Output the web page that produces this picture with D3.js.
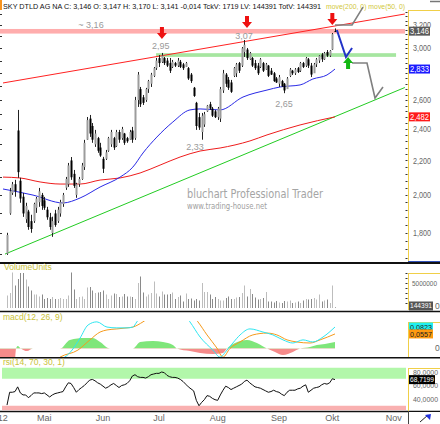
<!DOCTYPE html>
<html>
<head>
<meta charset="utf-8">
<script src="https://cdn.jsdelivr.net/npm/d3@7"></script>
<style>
body { margin: 0; background: #fff; }
svg { display: block; font-family: "Liberation Sans", Arial, sans-serif; }
</style>
</head>
<body>
<svg id="chart" width="440" height="424"></svg>
<script>
// SKY DTLD AG NA, daily bars 11.04.2012 - 02.10.2012 (bar index 0..123)
var title = "SKY DTLD AG NA C: 3,146 O: 3,147 H: 3,170 L: 3,141 -0,014 TckV: 1719 LV: 144391 TotV: 144391";
var studies = "move(200, 0) move(50, 0)";

var monthLabels = ["Apr '12", "Mai", "Jun", "Jul", "Aug", "Sep", "Okt", "Nov"];
var monthIdx = [-5, 14, 36, 57, 79, 102, 122, 145];

var open = [1.700,1.90,2.01,2.06,2.39,2.08,1.99,1.87,1.91,1.86,
  1.86,1.93,1.96,2.00,1.97,1.92,1.88,1.80,1.90,1.86,
  1.90,1.95,2.04,2.06,2.20,2.12,2.00,2.06,2.09,2.16,
  2.33,2.47,2.42,2.30,2.34,2.28,2.21,2.21,2.26,2.30,
  2.34,2.29,2.38,2.34,2.37,2.34,2.33,2.39,2.34,2.60,
  2.68,2.62,2.60,2.68,2.72,2.78,2.84,2.92,2.89,2.92,
  2.90,2.88,2.85,2.88,2.86,2.89,2.87,2.85,2.84,2.79,
  2.69,2.58,2.48,2.38,2.43,2.52,2.57,2.54,2.52,2.48,
  2.47,2.67,2.79,2.75,2.73,2.78,2.80,2.88,2.86,2.97,
  2.99,2.91,2.92,2.88,2.86,2.85,2.88,2.83,2.86,2.82,
  2.80,2.76,2.72,2.74,2.72,2.68,2.78,2.82,2.80,2.84,
  2.82,2.88,2.86,2.91,2.86,2.80,2.87,2.90,2.95,2.91,
  2.97,2.94,2.99,3.147];
var high = [1.801,2.039,2.073,2.085,2.530,2.097,2.011,1.957,1.919,1.893,
  1.957,1.989,2.039,2.011,1.989,1.935,1.903,1.883,1.919,1.935,
  1.973,2.011,2.102,2.185,2.221,2.143,2.068,2.102,2.185,2.329,
  2.481,2.495,2.440,2.394,2.348,2.310,2.222,2.265,2.348,2.394,
  2.348,2.394,2.394,2.414,2.374,2.348,2.394,2.414,2.623,2.810,
  2.696,2.637,2.689,2.749,2.803,2.849,2.921,2.945,2.962,2.929,
  2.921,2.921,2.905,2.889,2.921,2.905,2.881,2.889,2.849,2.802,
  2.696,2.587,2.509,2.509,2.516,2.565,2.587,2.551,2.530,2.551,
  2.696,2.826,2.802,2.771,2.749,2.849,2.881,2.889,3.011,3.070,
  3.003,2.970,2.929,2.905,2.881,2.921,2.889,2.881,2.865,2.841,
  2.810,2.771,2.787,2.749,2.726,2.771,2.841,2.826,2.841,2.849,
  2.889,2.889,2.929,2.921,2.881,2.881,2.921,2.945,2.962,2.970,
  2.986,2.986,3.130,3.170];
var low = [1.694,1.893,2.000,1.990,2.097,1.957,1.882,1.851,1.816,1.801,
  1.851,1.903,1.935,1.919,1.919,1.867,1.816,1.781,1.831,1.851,
  1.883,1.935,2.028,2.045,2.085,2.039,1.984,2.045,2.085,2.143,
  2.329,2.348,2.310,2.284,2.247,2.222,2.125,2.203,2.253,2.284,
  2.265,2.284,2.310,2.329,2.297,2.310,2.329,2.310,2.329,2.551,
  2.551,2.565,2.587,2.652,2.696,2.771,2.826,2.849,2.881,2.865,
  2.849,2.802,2.841,2.849,2.849,2.841,2.826,2.849,2.749,2.726,
  2.623,2.394,2.394,2.330,2.414,2.516,2.530,2.481,2.474,2.461,
  2.447,2.652,2.696,2.674,2.652,2.771,2.771,2.802,2.849,2.929,
  2.905,2.905,2.849,2.826,2.787,2.841,2.810,2.826,2.771,2.787,
  2.734,2.726,2.696,2.696,2.650,2.689,2.771,2.787,2.787,2.802,
  2.810,2.841,2.849,2.841,2.771,2.802,2.849,2.881,2.889,2.905,
  2.929,2.929,2.986,3.141];
var close = [1.790,2.02,2.06,2.02,2.13,1.98,1.90,1.94,1.83,1.82,
  1.95,1.98,2.02,1.94,1.93,1.88,1.83,1.86,1.84,1.92,
  1.96,2.00,2.09,2.17,2.10,2.05,2.06,2.09,2.17,2.31,
  2.46,2.37,2.33,2.37,2.26,2.23,2.15,2.25,2.34,2.38,
  2.28,2.38,2.33,2.40,2.31,2.32,2.38,2.33,2.60,2.79,
  2.57,2.58,2.68,2.74,2.79,2.84,2.90,2.88,2.94,2.88,
  2.86,2.82,2.89,2.86,2.90,2.85,2.84,2.88,2.76,2.74,
  2.63,2.42,2.41,2.49,2.50,2.56,2.54,2.49,2.48,2.54,
  2.68,2.80,2.72,2.69,2.66,2.84,2.87,2.82,3.00,3.03,
  2.92,2.96,2.86,2.84,2.80,2.91,2.82,2.87,2.78,2.79,
  2.74,2.73,2.77,2.70,2.67,2.76,2.83,2.80,2.83,2.81,
  2.88,2.85,2.92,2.86,2.79,2.87,2.91,2.94,2.91,2.96,
  2.94,2.98,3.12,3.146];
var volume = [2.5e6,3.0e6,7.1e6,4.5e6,5.8e6,7.0e6,7.0e6,5.7e6,4.3e6,3.5e6,
  2.7e6,2.7e6,2.3e6,2.7e6,1.8e6,2.0e6,1.8e6,2.2e6,1.8e6,1.8e6,
  2.0e6,1.8e6,1.8e6,2.5e6,7.1e6,3.7e6,1.8e6,2.2e6,2.3e6,
  1.8e6,4.1e6,4.2e6,3.5e6,3.0e6,3.1e6,3.2e6,3.5e6,2.7e6,
  1.8e6,2.5e6,2.9e6,2.8e6,2.2e6,2.3e6,2.8e6,2.3e6,2.3e6,
  2.2e6,1.8e6,5.0e6,6.3e6,3.1e6,2.3e6,2.7e6,
  3.0e6,5.3e6,2.9e6,2.3e6,3.3e6,2.7e6,2.7e6,2.8e6,3.1e6,1.8e6,2.2e6,2.5e6,
  1.3e6,2.9e6,1.8e6,1.9e6,1.5e6,1.8e6,1.5e6,5.0e6,3.2e6,
  3.2e6,2.7e6,1.8e6,2.2e6,1.8e6,1.5e6,1.5e6,
  2.0e6,2.3e6,1.8e6,1.8e6,2.1e6,2.2e6,3.0e6,4.5e6,2.3e6,3.8e6,2.8e6,2.1e6,
  1.7e6,1.8e6,2.0e6,3.2e6,1.3e6,1.3e6,1.1e6,1.4e6,1.1e6,1.0e6,1.4e6,
  1.3e6,1.5e6,1.0e6,1.1e6,1.3e6,1.0e6,1.5e6,1.8e6,1.7e6,1.8e6,2.0e6,1.7e6,2.7e6,1.3e6,1.5e6,1.7e6,1.0e6,4.5e6,
  144391];
var rsi = [31,50,50,51,58,49,46,46,42,45, 49,49,49,48,49,46,43,46,48,49,
  50,51,58,64,63,57,50,54,57,60, 64,68,69,67,64,62,59,56,58,61,
  63,60,57,60,61,63,67,74,76,73, 72,72,71,73,76,77,78,78,80,79,
  75,73,72,72,71,69,66,62,58,55, 52,38,30,35,39,45,44,41,39,38,
  46,53,59,57,54,56,58,60,62,66, 68,64,61,58,57,56,54,52,50,51,
  53,51,50,47,45,50,53,53,53,55, 56,59,61,50,53,56,57,58,61,63,
  62,64,70,68.7199];

// moving averages as [bar index, value]
var ma50 = [[-1.5,2.033],[9.75,1.999],[21,1.956],[27.4,1.983],[34.9,2.044],[42.4,2.101],[47.2,2.160],
  [51,2.246],[56.2,2.347],[62.2,2.447],[68.6,2.530],[72.4,2.537],[79.9,2.530],[88.5,2.622],[97.5,2.673],
  [102.4,2.696],[109.9,2.711],[114.7,2.756],[120,2.787],[123,2.833]];
var ma200 = [[-1.5,2.101],[4.9,2.096],[12.4,2.073],[19.9,2.061],[27.4,2.061],[34.9,2.084],[42.4,2.096],
  [49.9,2.125],[57.4,2.172],[64.9,2.221],[72.4,2.258],[79.9,2.277],[91.1,2.322],[97.5,2.361],
  [109.9,2.427],[123,2.482]];

var macdLine = [[-3,-0.09],[12,-0.065],[21.7,-0.033],[24.4,-0.006],[27.4,0.040],[30.4,0.090],[33.7,0.102],
  [37.5,0.082],[41.2,0.079],[45,0.079],[47.2,0.082],[48.7,0.102],[51.7,0.14],[57,0.19],[62,0.175],
  [68.6,0.102],[72.4,0.044],[77.2,-0.006],[79.9,-0.033],[82.5,-0.006],[84.7,0.021],[87.4,0.052],
  [91.1,0.075],[96,0.063],[99.7,0.052],[103.5,0.033],[107.2,0.021],[111,0.033],[114.7,0.025],
  [118.5,0.044],[123,0.0823]];
var signalLine = [[-3,-0.12],[12.4,-0.10],[19.9,-0.033],[26.6,-0.006],[31.1,0.033],[34.9,0.063],[37.5,0.071],
  [41.2,0.075],[45,0.079],[47.2,0.082],[51,0.102],[57.4,0.15],[63,0.16],[67,0.15],[71.6,0.102],
  [75,0.052],[78.7,0.002],[81,-0.033],[83.6,0],[87.4,0.025],[92.2,0.052],[97.5,0.059],[101.2,0.052],
  [105,0.033],[108.7,0.025],[113.6,0.021],[117.4,0.033],[123,0.0557]];
var macdHist = [[-3,-0.04],[3,-0.04],[3.4,0],[4,0.01],[5.2,0],[7.5,-0.01],[9.7,0],[19.9,0],[23.6,0.033],
  [29.2,0.04],[32.2,0.04],[34.9,0.025],[38.6,0],[47.2,0],[49.9,0.025],[54.7,0.029],[58.5,0.025],
  [62.2,0.013],[63.7,0],[68.6,-0.01],[72.4,-0.017],[77.2,-0.021],[81,-0.017],[82.5,0],[85.5,0.021],
  [90,0.033],[93.7,0.021],[97.5,0],[100.5,-0.013],[103.5,-0.025],[107.2,-0.013],[109.9,0],
  [113.6,0.006],[116.2,0.013],[119.2,0.017],[123,0.025]];

// drawn studies: [bar index, price]
var upperChannel = [[-1.5,2.726],[149.2,3.299]];
var lowerChannel = [[-0.75,1.698],[149.2,2.692]];
var resistBand = [3.125, 3.165];
var supportBand = [2.93, 2.96];
var supportFrom = 55.9, supportTo = 145.9;
var blueZig = [[123.7,3.156],[127.1,2.929],[129.4,3.003]];
var greyZigTop = [[123,3.200],[129.4,3.200],[133.5,3.363]];
var greyZigLow = [[129.4,2.881],[135,2.881],[138,2.615],[141,2.696]];
var downArrows = [[58.1,3.078],[90,3.173],[122,3.200]];
var upArrows = [[127.9,2.929]];
var priceNotes = [["~ 3,16",31.5,3.2],["2,95",57.7,3.019],["3,07",88.9,3.104],["2,33",70.5,2.284],["2,65",103.9,2.572]];

// 2,800 sits under the 2,833 value box in the original, so it is left out
var priceTicks = [1.8, 2.0, 2.2, 2.4, 2.6, 3.0, 3.2];
var rsiTicks = [40, 60, 80];

var svg = d3.select("#chart");
var axisX = 408;

var x = d3.scaleLinear().domain([-2.625, 150.375]).range([0, axisX]);
var yPrice = d3.scaleLog().domain([1.6612, 3.3356]).range([262, 10]);
var yVol = d3.scaleLinear().domain([0, 5e6]).range([308, 283]);
var yMacd = d3.scaleLinear().domain([0, 0.0823]).range([348.5, 327]);
var yRsi = d3.scaleLinear().domain([40, 80]).range([399, 372]);

var fmtPrice = function (v) { return d3.format(".3f")(v).replace(".", ","); };
var fmtRsi = function (v) { return d3.format(".4f")(v).replace(".", ","); };

var defs = svg.append("defs");
function clip(id, y0, y1) {
    defs.append("clipPath").attr("id", id).append("rect")
        .attr("x", 0).attr("y", y0).attr("width", axisX).attr("height", y1 - y0);
    return "url(#" + id + ")";
}
var clipMain = clip("cMain", 10, 262);
var clipVol = clip("cVol", 266, 309);
var clipMacd = clip("cMacd", 321, 357);
var clipMacdUp = clip("cMacdUp", 321, yMacd(0));
var clipMacdDn = clip("cMacdDn", yMacd(0), 357);
var clipRsi = clip("cRsi", 367.5, 410.5);

// small narrow labels (the original font is condensed)
function label(sel, px, py, size, color, txt, len) {
    var t = sel.append("text").attr("x", px).attr("y", py).attr("dy", "0.35em")
        .attr("font-size", size).attr("fill", color).text(txt);
    if (len) t.attr("textLength", len).attr("lengthAdjust", "spacingAndGlyphs");
    return t;
}

// header
svg.append("rect").attr("x", 0).attr("y", 0).attr("width", 2).attr("height", 10).attr("fill", "#f7931e");
svg.append("text").attr("x", 3).attr("y", 9).attr("font-size", 7.5).attr("fill", "#111")
    .attr("textLength", 318).attr("lengthAdjust", "spacingAndGlyphs").text(title);
svg.append("text").attr("x", 326).attr("y", 9).attr("font-size", 7.5).attr("fill", "#d2c83c")
    .attr("textLength", 79).attr("lengthAdjust", "spacingAndGlyphs").text(studies);
svg.append("line").attr("x1", 430).attr("x2", 440).attr("y1", 1.5).attr("y2", 1.5)
    .attr("stroke", "#777").attr("stroke-width", 1.5);

// ---------- main price panel ----------
var gMain = svg.append("g").attr("clip-path", clipMain);

gMain.append("rect").attr("x", 0).attr("width", 405)
    .attr("y", yPrice(resistBand[1])).attr("height", yPrice(resistBand[0]) - yPrice(resistBand[1]))
    .attr("fill", "#ffadad");
gMain.append("rect").attr("x", x(supportFrom)).attr("width", x(supportTo) - x(supportFrom))
    .attr("y", yPrice(supportBand[1])).attr("height", yPrice(supportBand[0]) - yPrice(supportBand[1]))
    .attr("fill", "#a6e6a0");

svg.append("text").attr("x", 187).attr("y", 198).attr("font-size", 11.5).attr("fill", "#a5a5a5")
    .attr("font-family", "DejaVu Sans, sans-serif")
    .attr("textLength", 136).attr("lengthAdjust", "spacingAndGlyphs").text("bluchart Professional Trader");
svg.append("text").attr("x", 187).attr("y", 209).attr("font-size", 8).attr("fill", "#a0a0a0")
    .attr("font-family", "DejaVu Sans, sans-serif")
    .attr("textLength", 80).attr("lengthAdjust", "spacingAndGlyphs").text("www.trading-house.net");

var pline = d3.line().x(function (d) { return x(d[0]); }).y(function (d) { return yPrice(d[1]); });
var pcurve = d3.line().curve(d3.curveMonotoneX)
    .x(function (d) { return x(d[0]); }).y(function (d) { return yPrice(d[1]); });

gMain.append("path").attr("d", pline(upperChannel)).attr("fill", "none").attr("stroke", "#f22").attr("stroke-width", 1);
gMain.append("path").attr("d", pline(lowerChannel)).attr("fill", "none").attr("stroke", "#2c2").attr("stroke-width", 1);
gMain.append("path").attr("d", pcurve(ma200)).attr("fill", "none").attr("stroke", "#ee1c1c").attr("stroke-width", 1);
gMain.append("path").attr("d", pcurve(ma50)).attr("fill", "none").attr("stroke", "#2a2ae6").attr("stroke-width", 1);

var bars = d3.range(close.length);
var candle = gMain.selectAll("g.candle").data(bars).enter().append("g").attr("class", "candle");
candle.append("line")
    .attr("x1", function (i) { return Math.round(x(i)) + 0.5; })
    .attr("x2", function (i) { return Math.round(x(i)) + 0.5; })
    .attr("y1", function (i) { return yPrice(high[i]); })
    .attr("y2", function (i) { return yPrice(low[i]); })
    .attr("stroke", "#222").attr("stroke-width", 1);
candle.append("rect")
    .attr("x", function (i) { return Math.round(x(i)) - 0.5; })
    .attr("width", 2)
    .attr("y", function (i) { return yPrice(Math.max(open[i], close[i])); })
    .attr("height", function (i) { return Math.max(1, yPrice(Math.min(open[i], close[i])) - yPrice(Math.max(open[i], close[i]))); })
    .attr("fill", function (i) { return close[i] >= open[i] ? "#9c9c9c" : "#000"; });

// drawn studies
svg.append("path").attr("d", pline(greyZigTop)).attr("fill", "none").attr("stroke", "#808080").attr("stroke-width", 1.6);
svg.append("path").attr("d", pline(greyZigLow)).attr("fill", "none").attr("stroke", "#808080").attr("stroke-width", 1.6);
svg.append("path").attr("d", pline(blueZig)).attr("fill", "none").attr("stroke", "#2233c8").attr("stroke-width", 2);

function arrow(tx, ty, dir, color) {
    // dir = 1 points down, -1 points up
    var s = dir;
    var pts = [[tx, ty], [tx - 5, ty - 6 * s], [tx - 2, ty - 6 * s], [tx - 2, ty - 12 * s],
               [tx + 2, ty - 12 * s], [tx + 2, ty - 6 * s], [tx + 5, ty - 6 * s]];
    svg.append("polygon").attr("points", pts.map(function (p) { return p.join(","); }).join(" ")).attr("fill", color);
}
downArrows.forEach(function (d) { arrow(x(d[0]), yPrice(d[1]), 1, "#ee1111"); });
upArrows.forEach(function (d) { arrow(x(d[0]), yPrice(d[1]), -1, "#14b814"); });

svg.selectAll("text.note").data(priceNotes).enter().append("text").attr("class", "note")
    .attr("x", function (d) { return x(d[1]); }).attr("y", function (d) { return yPrice(d[2]); })
    .attr("dy", "0.35em").attr("text-anchor", "middle").attr("font-size", 9).attr("fill", "#9a9a9a")
    .text(function (d) { return d[0]; });

// left edge ticks
svg.selectAll("line.lt").data(d3.range(1.7, 3.35, 0.1)).enter().append("line").attr("class", "lt")
    .attr("x1", 0).attr("x2", 2).attr("y1", function (v) { return Math.round(yPrice(v)) + 0.5; })
    .attr("y2", function (v) { return Math.round(yPrice(v)) + 0.5; }).attr("stroke", "#333");

// right price axis
function axisFrame(y0, y1) {
    svg.append("line").attr("x1", axisX + 0.5).attr("x2", axisX + 0.5).attr("y1", y0).attr("y2", y1)
        .attr("stroke", "#f0cf48").attr("stroke-width", 1);
    svg.append("line").attr("x1", axisX).attr("x2", 440).attr("y1", y0 + 0.5).attr("y2", y0 + 0.5)
        .attr("stroke", "#f0cf48").attr("stroke-width", 1);
}
axisFrame(10, 262);
svg.append("line").attr("x1", axisX).attr("x2", 440).attr("y1", 261.5).attr("y2", 261.5).attr("stroke", "#3050b8");

svg.selectAll("line.mt").data(d3.range(1.68, 3.34, 0.04)).enter().append("line").attr("class", "mt")
    .attr("x1", 405.5).attr("x2", 407.5).attr("y1", function (v) { return Math.round(yPrice(v)) + 0.5; })
    .attr("y2", function (v) { return Math.round(yPrice(v)) + 0.5; }).attr("stroke", "#333");
priceTicks.forEach(function (v) { label(svg, 413, yPrice(v), 9, "#666", fmtPrice(v), 18); });

function valueBox(yPos, txt, bg, fg, w, size) {
    svg.append("rect").attr("x", 409).attr("y", yPos - 4.5).attr("width", w).attr("height", 9).attr("fill", bg);
    label(svg, 410, yPos, size || 8.5, fg, txt, w - 2);
}
valueBox(yPrice(close[close.length - 1]), fmtPrice(close[close.length - 1]), "#5a5a5a", "#fff", 21);
valueBox(yPrice(ma50[ma50.length - 1][1]), fmtPrice(ma50[ma50.length - 1][1]), "#1a1aff", "#fff", 21);
valueBox(yPrice(ma200[ma200.length - 1][1]), fmtPrice(ma200[ma200.length - 1][1]), "#ff1a1a", "#fff", 21);

// separators
[[263, 2], [311.5, 1.5], [357.8, 1.5], [411.5, 1.5]].forEach(function (s) {
    svg.append("line").attr("x1", 0).attr("x2", 440).attr("y1", s[0]).attr("y2", s[0])
        .attr("stroke", "#111").attr("stroke-width", s[1]);
});

// ---------- volume ----------
svg.append("text").attr("x", 4).attr("y", 270).attr("font-size", 8.5).attr("fill", "#c9c238").text("VolumeUnits");
var gVol = svg.append("g").attr("clip-path", clipVol);
gVol.selectAll("rect").data(bars).enter().append("rect")
    .attr("x", function (i) { return Math.round(x(i)); }).attr("width", 1)
    .attr("y", function (i) { return yVol(volume[i]); })
    .attr("height", function (i) { return yVol(0) - yVol(volume[i]); })
    .attr("fill", function (i) { return close[i] >= open[i] ? "#bdbdbd" : "#8a8a8a"; });
axisFrame(273, 310);
svg.selectAll("line.vt").data([1e6, 2e6, 3e6, 4e6, 5e6, 6e6, 7e6]).enter().append("line").attr("class", "vt")
    .attr("x1", 405.5).attr("x2", 407.5).attr("y1", function (v) { return Math.round(yVol(v)) + 0.5; })
    .attr("y2", function (v) { return Math.round(yVol(v)) + 0.5; }).attr("stroke", "#333");
label(svg, 412, yVol(5e6), 7.5, "#666", "5000000", 25);
label(svg, 435, yVol(0) - 2, 8.5, "#666", "0");
valueBox(yVol(0) - 2, String(volume[volume.length - 1]), "#555", "#fff", 24, 7);

// ---------- macd ----------
svg.append("text").attr("x", 3).attr("y", 320).attr("font-size", 8.5).attr("fill", "#c9c238").text("macd(12, 26, 9)");
var gMacd = svg.append("g");
var histArea = d3.area().curve(d3.curveMonotoneX)
    .x(function (d) { return x(d[0]); }).y0(yMacd(0)).y1(function (d) { return yMacd(d[1]); });
gMacd.append("path").attr("d", histArea(macdHist)).attr("fill", "#7fe67a").attr("clip-path", clipMacdUp);
gMacd.append("path").attr("d", histArea(macdHist)).attr("fill", "#f58b8b").attr("clip-path", clipMacdDn);
var mline = d3.line().curve(d3.curveMonotoneX)
    .x(function (d) { return x(d[0]); }).y(function (d) { return yMacd(d[1]); });
var gMacdL = svg.append("g").attr("clip-path", clipMacd);
gMacdL.append("path").attr("d", mline(signalLine)).attr("fill", "none").attr("stroke", "#f59a1c").attr("stroke-width", 1);
gMacdL.append("path").attr("d", mline(macdLine)).attr("fill", "none").attr("stroke", "#2ee6f0").attr("stroke-width", 1);
axisFrame(322, 357);
label(svg, 435, yMacd(0), 8.5, "#666", "0");
valueBox(yMacd(macdLine[macdLine.length - 1][1]), "0,0823", "#1ef0f0", "#222", 24, 7.5);
valueBox(yMacd(signalLine[signalLine.length - 1][1]), "0,0557", "#ff9a10", "#222", 24, 7.5);

// ---------- rsi ----------
svg.append("text").attr("x", 3).attr("y", 365).attr("font-size", 8.5).attr("fill", "#c9c238").text("rsi(14, 70, 30, 1)");
var gRsi = svg.append("g").attr("clip-path", clipRsi);
gRsi.append("rect").attr("x", 2).attr("width", 404).attr("y", 367.5).attr("height", yRsi(70) - 367.5).attr("fill", "#b2f7aa");
gRsi.append("rect").attr("x", 2).attr("width", 404).attr("y", yRsi(30)).attr("height", 410.5 - yRsi(30)).attr("fill", "#f9b0b0");
gRsi.append("path").attr("d", d3.line().x(function (d, i) { return x(i); }).y(function (d) { return yRsi(d); })(rsi))
    .attr("fill", "none").attr("stroke", "#111").attr("stroke-width", 1);
axisFrame(368, 411);
rsiTicks.forEach(function (v) { label(svg, 413, yRsi(v), 7.2, "#666", fmtRsi(v), 25); });
valueBox(yRsi(rsi[rsi.length - 1]), fmtRsi(rsi[rsi.length - 1]), "#000", "#fff", 26, 7.2);

// ---------- date axis ----------
svg.selectAll("text.mo").data(monthLabels).enter().append("text").attr("class", "mo")
    .attr("x", function (d, k) { return x(monthIdx[k]); }).attr("y", 418).attr("dy", "0.35em")
    .attr("text-anchor", "middle").attr("font-size", 9).attr("fill", "#666").text(function (d) { return d; });
svg.append("rect").attr("x", axisX).attr("y", 412).attr("width", 32).attr("height", 12).attr("fill", "#fff");
svg.append("line").attr("x1", axisX + 0.5).attr("x2", axisX + 0.5).attr("y1", 411).attr("y2", 424).attr("stroke", "#444");
svg.append("line").attr("x1", 420).attr("x2", 428).attr("y1", 422).attr("y2", 415).attr("stroke", "#222");
svg.append("polygon").attr("points", "425,415 431,414 430,420 428,418").attr("fill", "#2233dd");
</script>
</body>
</html>
